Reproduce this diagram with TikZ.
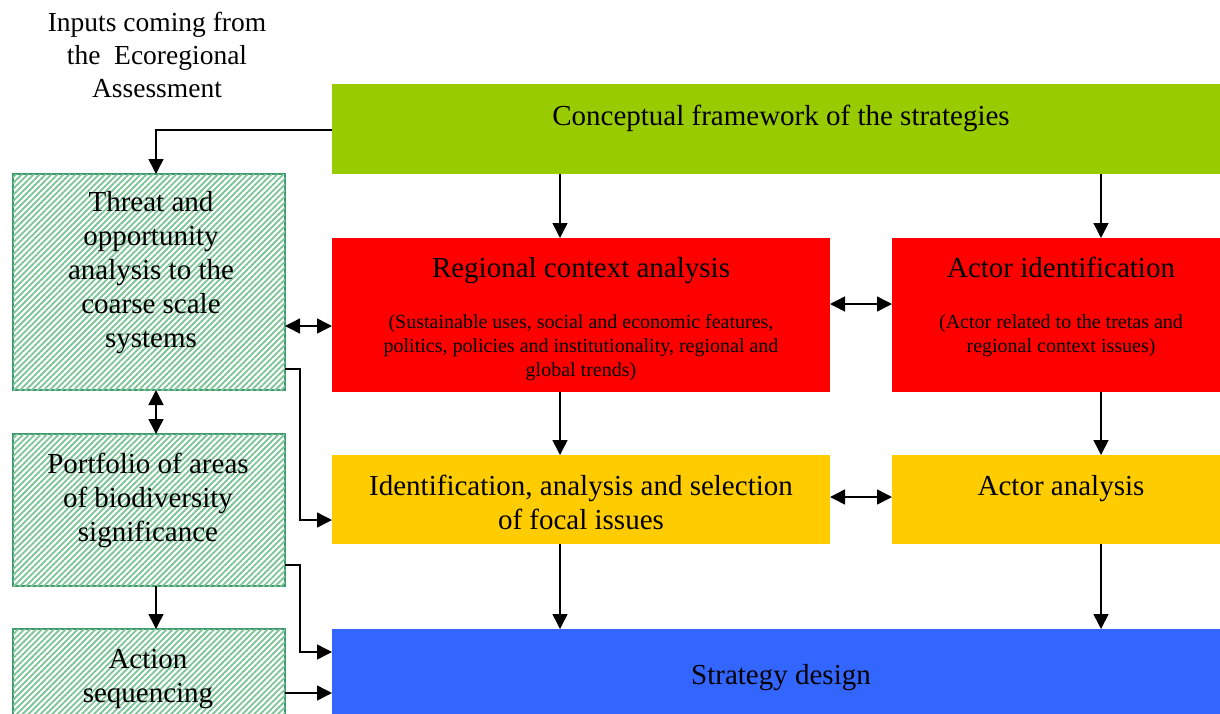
\documentclass[tikz,border=0pt]{standalone}
\usepackage{fontspec}
\setmainfont{Liberation Serif}
\usetikzlibrary{arrows.meta,patterns.meta}
\definecolor{framegreen}{HTML}{99CC00}
\definecolor{ctxred}{HTML}{FF0000}
\definecolor{issueyellow}{HTML}{FFCC00}
\definecolor{designblue}{HTML}{3366FF}
\definecolor{hatchline}{HTML}{3E9A6C}
\definecolor{hatchfill}{HTML}{7CC496}
\tikzset{
  box/.style={draw=none, inner sep=0pt, outer sep=0pt},
  hatchbox/.style={draw=hatchline, line width=1.6pt, fill=white, inner sep=0pt, outer sep=0pt,
    postaction={pattern={Lines[angle=45,distance=4.2pt,line width=1.8pt]}, pattern color=hatchfill}},
  bigtxt/.style={inner sep=0pt, align=center, font=\fontsize{29}{34}\selectfont},
  smalltxt/.style={inner sep=0pt, align=center, font=\fontsize{20}{24}\selectfont},
  inputtxt/.style={inner sep=0pt, align=center, font=\fontsize{27.5}{33}\selectfont},
  tip/.style={Triangle[length=15pt,width=15pt]},
  arr/.style={line width=1.5pt, -{Triangle[length=15pt,width=15pt]}},
  darr/.style={line width=1.5pt, {Triangle[length=15pt,width=15pt]}-{Triangle[length=15pt,width=15pt]}},
}
\begin{document}
\begin{tikzpicture}[x=1pt,y=-1pt]
\useasboundingbox (0,0) rectangle (1220,713);
\clip (0,0) rectangle (1220,713);

% coloured boxes of the main flow
\node[box, fill=framegreen, minimum width=890pt, minimum height=90pt] (concept) at (777,129) {};
\node[box, fill=ctxred, minimum width=498pt, minimum height=154pt] (regional) at (581,315) {};
\node[box, fill=ctxred, minimum width=334pt, minimum height=154pt] (actorid) at (1059,315) {};
\node[box, fill=issueyellow, minimum width=498pt, minimum height=89pt] (issues) at (581,499.5) {};
\node[box, fill=issueyellow, minimum width=334pt, minimum height=89pt] (actoran) at (1059,499.5) {};
\node[box, fill=designblue, minimum width=894pt, minimum height=100pt] (design) at (779,679) {};

% hatched boxes on the left
\node[hatchbox, minimum width=272pt, minimum height=216pt] (threat) at (149,282) {};
\node[hatchbox, minimum width=272pt, minimum height=152pt] (portfolio) at (149,510) {};
\node[hatchbox, minimum width=272pt, minimum height=100pt] (action) at (149,679) {};

% texts
\node[inputtxt] (inputs) at (157,55) {Inputs coming from\\the\ \ Ecoregional\\Assessment};
\node[bigtxt, anchor=base] (conceptT) at (781,125) {Conceptual framework of the strategies};
\node[bigtxt, anchor=base] (regionalT) at (581,277) {Regional context analysis};
\node[smalltxt] (regionalS) at (581,348) {(Sustainable uses, social and economic features,\\politics, policies and institutionality, regional and\\global trends)};
\node[bigtxt, anchor=base] (actoridT) at (1061,277) {Actor identification};
\node[smalltxt] (actoridS) at (1061,336) {(Actor related to the tretas and\\regional context issues)};
\node[bigtxt] (issuesT) at (581,502.5) {Identification, analysis and selection\\of focal issues};
\node[bigtxt, anchor=base] (actoranT) at (1061,495) {Actor analysis};
\node[bigtxt, anchor=base] (designT) at (781,684) {Strategy design};
\node[bigtxt] (threatT) at (151,273) {Threat and\\opportunity\\analysis to the\\coarse scale\\systems};
\node[bigtxt] (portfolioT) at (148,500.5) {Portfolio of areas\\of biodiversity\\significance};
\node[bigtxt] (actionT) at (148,679) {Action\\sequencing};

% guide coordinates for connector positions
\coordinate (cx) at (560,0);
\coordinate (dx) at (1101,0);
\coordinate (lx) at (156,0);
\coordinate (bx) at (300,0);
\coordinate (y1) at (0,130);
\coordinate (y2) at (0,304);
\coordinate (y3) at (0,326);
\coordinate (y4) at (0,369);
\coordinate (y5) at (0,520);
\coordinate (y6) at (0,497);
\coordinate (y7) at (0,565);
\coordinate (y8) at (0,652);
\coordinate (y9) at (0,693);

% connectors
\draw[arr] (concept.west |- y1) -| (threat.north -| lx);
\draw[arr] (concept.south -| cx) -- (regional.north -| cx);
\draw[arr] (concept.south -| dx) -- (actorid.north -| dx);
\draw[arr] (regional.south -| cx) -- (issues.north -| cx);
\draw[arr] (actorid.south -| dx) -- (actoran.north -| dx);
\draw[arr] (issues.south -| cx) -- (design.north -| cx);
\draw[arr] (actoran.south -| dx) -- (design.north -| dx);
\draw[darr] (regional.east |- y2) -- (actorid.west |- y2);
\draw[darr] (issues.east |- y6) -- (actoran.west |- y6);
\draw[darr] (threat.east |- y3) -- (regional.west |- y3);
\draw[darr] (threat.south -| lx) -- (portfolio.north -| lx);
\draw[arr] (portfolio.south -| lx) -- (action.north -| lx);
\draw[arr] (threat.east |- y4) -| (bx |- y5) -- (issues.west |- y5);
\draw[arr] (portfolio.east |- y7) -| (bx |- y8) -- (design.west |- y8);
\draw[arr] (action.east |- y9) -- (design.west |- y9);
\end{tikzpicture}
\end{document}
